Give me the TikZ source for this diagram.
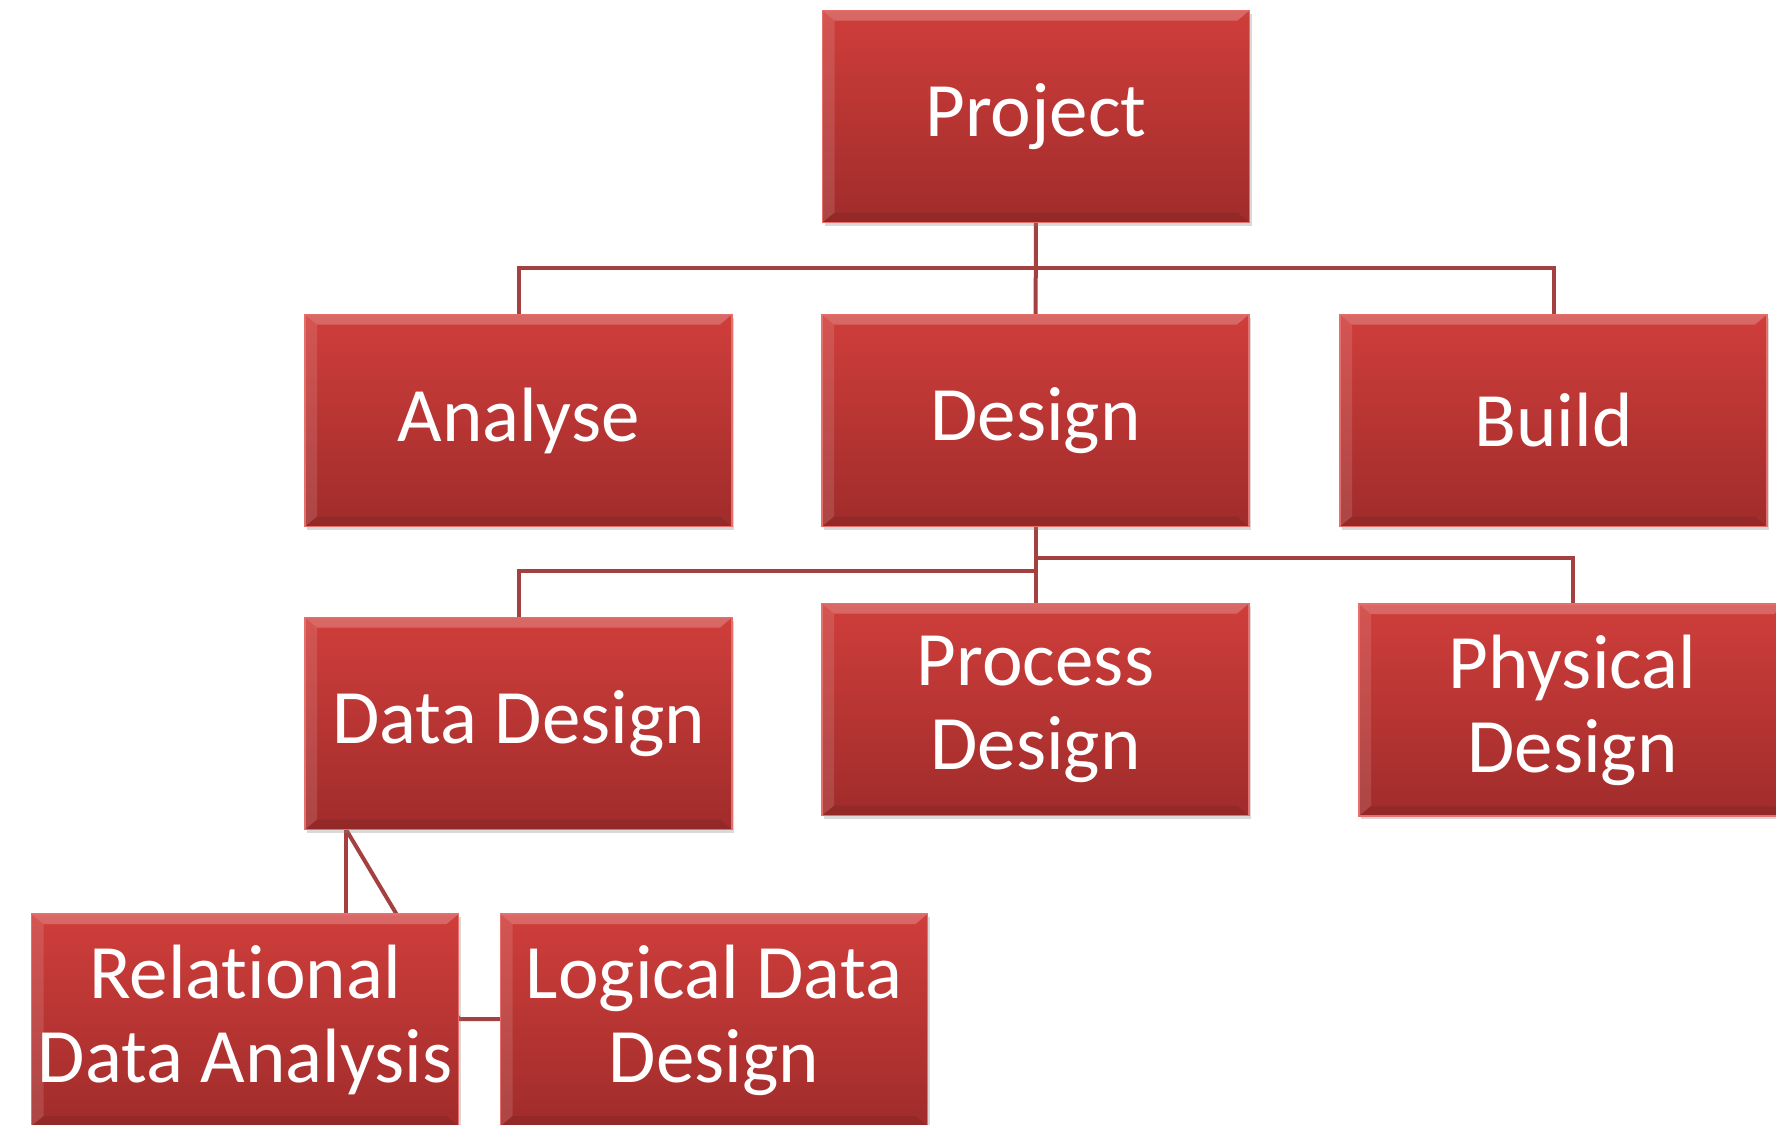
\documentclass[tikz,border=0pt]{standalone}
\usepackage{fontspec}
\setmainfont[Ligatures=NoCommon]{Carlito}
\usepackage{tikz}
\usetikzlibrary{positioning,shadows}
\usepackage{xcolor}
\definecolor{boxtop}{HTML}{CF3E3B}
\definecolor{boxbot}{HTML}{A02C2B}
\definecolor{boxrim}{HTML}{E66E6B}
\definecolor{linkred}{HTML}{A4403F}
\pgfdeclarelayer{background}
\pgfsetlayers{background,main}

\tikzset{
  taskbox/.style={rectangle,minimum width=213.5pt,minimum height=106pt,
    top color=boxtop,bottom color=boxbot,draw=boxrim,line width=.6pt,
    text=white,align=center,inner sep=0pt,
    font=\fontsize{38.5}{42}\selectfont,
    drop shadow={opacity=.3,shadow xshift=1pt,shadow yshift=-1.5pt},
    path picture={
      \fill[white,opacity=.22] (path picture bounding box.north west)
        -- (path picture bounding box.north east)
        -- ([xshift=-6pt,yshift=-5pt]path picture bounding box.north east)
        -- ([xshift=6pt,yshift=-5pt]path picture bounding box.north west) -- cycle;
      \fill[white,opacity=.12] (path picture bounding box.north west)
        -- ([xshift=6pt,yshift=-5pt]path picture bounding box.north west)
        -- ([xshift=6pt,yshift=5pt]path picture bounding box.south west)
        -- (path picture bounding box.south west) -- cycle;
      \fill[black,opacity=.08] (path picture bounding box.south west)
        -- (path picture bounding box.south east)
        -- ([xshift=-6pt,yshift=5pt]path picture bounding box.south east)
        -- ([xshift=6pt,yshift=5pt]path picture bounding box.south west) -- cycle;
    }},
  link/.style={draw=linkred,line width=2pt}
}

\begin{document}
\begin{tikzpicture}[x=0.5pt,y=-0.5pt]
\useasboundingbox (0,0) rectangle (1776,1124);

% top level
\node[taskbox] (project) at (1036,116.5) {Project};

% phases
\node[taskbox] (analyse) at (518.5,420.5) {Analyse};
\node[taskbox] (design) at (1035.5,420.5) {Design};
\node[taskbox] (build) at (1553.5,420.5) {Build};

% design parts
\node[taskbox] (datadesign) at (518.5,723.5) {Data Design};
\node[taskbox] (process) at (1035.5,709.5) {Process\\Design};
\node[taskbox] (physical) at (1572.5,710) {Physical\\Design};

% data design parts, cut off at the bottom
\node[taskbox] (relational) at (245,1020) {Relational\\Data Analysis};
\node[taskbox] (logical) at (714,1020) {Logical Data\\Design};

\coordinate (busA) at (1036,268);
\coordinate (busB) at (1036,571);
\coordinate (busC) at (1036,558);

\begin{pgfonlayer}{background}
\draw[link] (project) -- (design);
\draw[link] (analyse.north) |- (busA) -| (build.north);
\draw[link] (design) -- (process);
\draw[link] (datadesign.north) |- (busB);
\draw[link] (busC) -| (physical.north);
\draw[link] ([xshift=21pt]datadesign.south west) coordinate (ddfoot)
  -- (ddfoot |- relational.north);
\draw[link] (ddfoot) -- (relational.east |- 0,1019) -- (logical.west |- 0,1019);
\end{pgfonlayer}
\end{tikzpicture}
\end{document}
